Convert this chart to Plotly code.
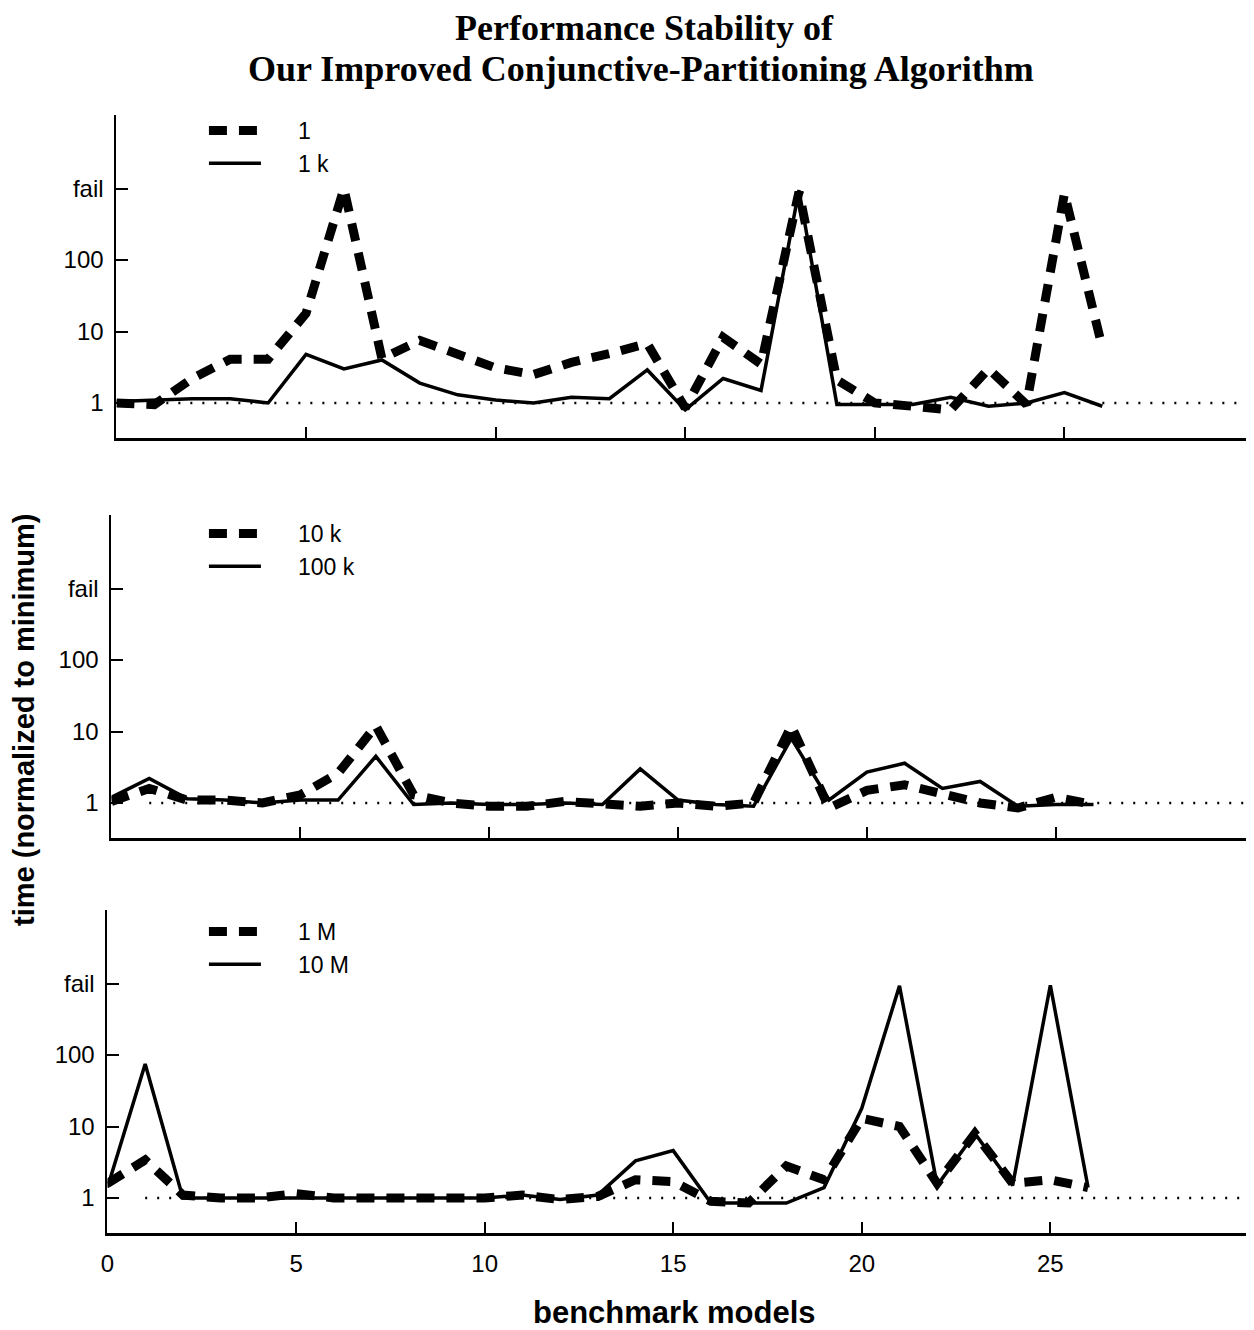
import plotly.graph_objects as go

# ---------------- data ----------------
models = list(range(27))

top_1 = [1.0, 0.95, 2.2, 4.1, 4.1, 18, 1000, 4.2, 7.5, 4.9, 3.1, 2.5, 3.7, 4.9, 6.8,
         0.85, 8.3, 3.5, 900, 2.1, 1.0, 0.9, 0.8, 3.0, 0.95, 850, 6.0]
top_1k = [1.05, 1.1, 1.15, 1.15, 1.0, 4.8, 3.0, 4.0, 1.9, 1.3, 1.1, 1.0, 1.2, 1.15, 2.9,
          0.8, 2.2, 1.5, 950, 0.95, 0.95, 0.95, 1.2, 0.9, 1.0, 1.4, 0.9]

mid_10k = [1.05, 1.6, 1.1, 1.1, 1.0, 1.3, 2.6, 12, 1.3, 1.0, 0.9, 0.9, 1.05, 1.0, 0.9,
           1.0, 0.9, 1.0, 12, 0.85, 1.5, 1.8, 1.3, 1.0, 0.85, 1.2, 0.95]
mid_100k = [1.2, 2.2, 1.15, 1.1, 1.0, 1.1, 1.1, 4.5, 0.95, 1.0, 0.95, 0.95, 1.0, 0.95, 3.0,
            1.1, 0.95, 0.9, 8, 1.1, 2.7, 3.6, 1.6, 2.0, 0.9, 0.95, 0.95]

bot_1M = [1.6, 3.4, 1.1, 1.0, 1.0, 1.15, 1.0, 1.0, 1.0, 0.95, 1.0, 1.1, 0.95, 1.05, 1.8,
          1.7, 0.9, 0.85, 2.8, 1.8, 13, 10, 1.6, 8.0, 1.6, 1.8, 1.4]
bot_10M = [1.4, 75, 1.0, 1.0, 1.0, 1.0, 1.0, 1.0, 1.0, 1.0, 1.0, 1.1, 0.95, 1.1, 3.3,
           4.6, 0.85, 0.85, 0.85, 1.4, 18, 930, 1.5, 8.0, 1.5, 950, 1.4]

ref_x = [1, 31]
ref_y = [1, 1]

y_tickvals = [1, 10, 100, 1000]
y_ticktext = ["1", "10", "100", "fail"]
x_tickvals = [0, 5, 10, 15, 20, 25]
x_ticktext = ["0", "5", "10", "15", "20", "25"]

panels = [
    ("1", top_1, "1 k", top_1k),
    ("10 k", mid_10k, "100 k", mid_100k),
    ("1 M", bot_1M, "10 M", bot_10M),
]

# ---------------- layout geometry ----------------
OFF = 8                      # default page body margin
W, H = 1254 - OFF, 1330 - OFF


def px(v):
    return v - OFF


left_px = [110, 105, 101]
x_right = [30.0, 30.25, 30.4]
y_px = [(115, 438), (515, 838), (910, 1233)]
legend_top_px = [109, 512, 910]
PAD = "\u00a0" * 5

fig = go.Figure()
FONT = "Liberation Sans, Arial, Helvetica, sans-serif"

for i, (n1, d1, n2, d2) in enumerate(panels):
    k = "" if i == 0 else str(i + 1)
    xa, ya = "x" + k, "y" + k
    leg = "legend" + k
    fig.add_trace(go.Scatter(x=models, y=d1, name=PAD + n1, mode="lines", xaxis=xa, yaxis=ya,
                             legend=leg,
                             line=dict(color="black", width=9, dash="18px,12px")))
    fig.add_trace(go.Scatter(x=models, y=d2, name=PAD + n2, mode="lines", xaxis=xa, yaxis=ya,
                             legend=leg,
                             line=dict(color="black", width=3.5)))
    fig.add_trace(go.Scatter(x=ref_x, y=ref_y, mode="lines", xaxis=xa, yaxis=ya,
                             showlegend=False, hoverinfo="skip",
                             line=dict(color="black", width=2.5, dash="2px,10px")))

    t, b = y_px[i]
    fig.layout["xaxis" + k] = dict(
        domain=[px(left_px[i]) / W, 1], range=[0, x_right[i]], anchor=ya,
        showline=True, linecolor="black", linewidth=2.5, mirror=False,
        ticks="inside", ticklen=11, tickwidth=1.5, tickcolor="black",
        tickvals=x_tickvals, ticktext=x_ticktext, ticklabelstandoff=7,
        showticklabels=(i == 2), showgrid=False, zeroline=False,
        tickfont=dict(family=FONT, size=24, color="black"),
    )
    fig.layout["yaxis" + k] = dict(
        domain=[1 - px(b) / H, 1 - px(t) / H], type="log", range=[-0.49, 4.03], anchor=xa,
        showline=True, linecolor="black", linewidth=2, mirror=False,
        ticks="inside", ticklen=12, tickwidth=1.5, tickcolor="black",
        tickvals=y_tickvals, ticktext=y_ticktext, ticklabelstandoff=6,
        showgrid=False, zeroline=False,
        tickfont=dict(family=FONT, size=24, color="black"),
    )
    fig.layout[leg] = dict(
        x=px(198) / W, y=1 - px(legend_top_px[i]) / H, xanchor="left", yanchor="top",
        bgcolor="rgba(0,0,0,0)", borderwidth=0, itemwidth=52,
        font=dict(family=FONT, size=23, color="black"), tracegroupgap=0,
    )

SERIF = "Liberation Serif, Times New Roman, serif"
annotations = [
    dict(text="<b>Performance Stability of</b>", x=px(641) / W, y=1 - px(28) / H,
         font=dict(family=SERIF, size=36, color="black")),
    dict(text="<b>Our Improved Conjunctive-Partitioning Algorithm</b>", x=px(638) / W,
         y=1 - px(68.5) / H, font=dict(family=SERIF, size=36, color="black")),
    dict(text="<b>time (normalized to minimum)</b>", x=px(17) / W, y=1 - px(720) / H,
         textangle=-90, font=dict(family=FONT, size=29, color="black")),
    dict(text="<b>benchmark models</b>", x=px(671) / W, y=1 - px(1312) / H,
         font=dict(family=FONT, size=31, color="black")),
]
for a in annotations:
    a.update(xref="paper", yref="paper", showarrow=False, xanchor="center", yanchor="middle")

fig.update_layout(
    width=W, height=H, margin=dict(l=0, r=0, t=0, b=0),
    paper_bgcolor="white", plot_bgcolor="white",
    annotations=annotations, showlegend=True,
)

fig.write_html("out.html")
